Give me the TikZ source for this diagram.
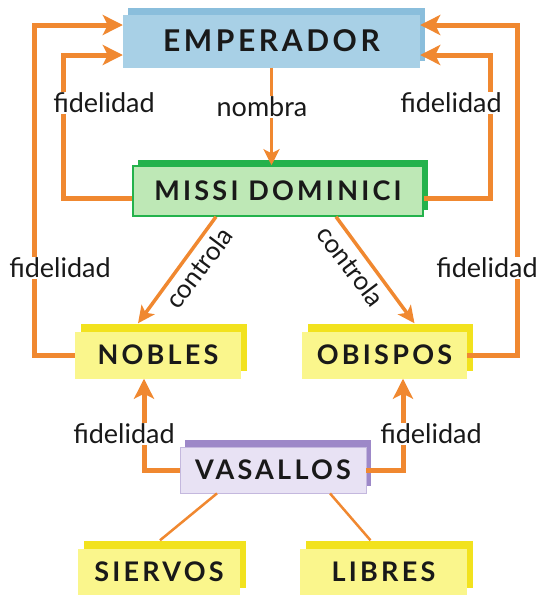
\documentclass[tikz,border=0pt]{standalone}
\usepackage{fontspec}
\setmainfont{Lato}
\newfontfamily\capsfont{Lato}[LetterSpace=12]
\usetikzlibrary{arrows.meta,shadows,calc}
\definecolor{org}{RGB}{240,136,48}
\definecolor{txt}{RGB}{25,25,25}
\definecolor{bluemain}{RGB}{168,208,230}
\definecolor{blueshadow}{RGB}{138,190,220}
\definecolor{greenmain}{RGB}{190,232,182}
\definecolor{greendark}{RGB}{36,178,76}
\definecolor{yelmain}{RGB}{250,246,140}
\definecolor{yelshadow}{RGB}{242,226,30}
\definecolor{purmain}{RGB}{232,226,244}
\definecolor{purdark}{RGB}{157,136,200}
\begin{document}
\begin{tikzpicture}[x=1pt,y=-1pt,
  box/.style={draw=none, minimum height=47pt, inner sep=0pt, text=txt,
    font=\capsfont\bfseries\fontsize{27}{27}\selectfont},
  bluebox/.style={box, fill=bluemain,
    copy shadow={fill=blueshadow, draw=none, shadow xshift=5pt, shadow yshift=7pt}},
  greenbox/.style={box, fill=greenmain, draw=greendark, line width=1.5pt,
    copy shadow={fill=greendark, draw=none, shadow xshift=5pt, shadow yshift=6pt}},
  yelbox/.style={box, fill=yelmain,
    copy shadow={fill=yelshadow, draw=none, shadow xshift=6pt, shadow yshift=8pt}},
  purbox/.style={box, fill=purmain, draw=purdark!60, line width=0.8pt,
    copy shadow={fill=purdark, draw=none, shadow xshift=5pt, shadow yshift=7pt}},
  lbl/.style={fill=white, inner sep=1pt, text=txt, font=\fontsize{27}{27}\selectfont},
  rlbl/.style={inner sep=0pt, text=txt, font=\fontsize{26}{26}\selectfont},
  fid/.style={draw=org, line width=5pt, line join=miter,
    -{Stealth[length=20pt,width=20pt,inset=5pt]}},
  nom/.style={draw=org, line width=3.5pt, -{Stealth[length=16pt,width=16pt,inset=4pt]}},
  ctl/.style={draw=org, line width=3.5pt, -{Stealth[length=17pt,width=16pt,inset=4pt]}},
  lnk/.style={draw=org, line width=2.5pt}
]
\useasboundingbox (0,0) rectangle (543,595);

% boxes
\node[bluebox, minimum width=297pt, minimum height=53pt,
  font=\capsfont\bfseries\fontsize{30}{30}\selectfont] (emp) at (271.5,41) {EMPERADOR};
\node[greenbox, minimum width=290pt, minimum height=50pt] (missi) at (278,191) {MISSI DOMINICI};
\node[yelbox, minimum width=166pt] (nobles) at (158,355) {NOBLES};
\node[yelbox, minimum width=165pt] (obispos) at (384.5,355) {OBISPOS};
\node[purbox, minimum width=186pt, minimum height=46pt] (vas) at (273,470) {VASALLOS};
\node[yelbox, minimum width=162pt] (siervos) at (159,572) {SIERVOS};
\node[yelbox, minimum width=167pt] (libres) at (383.5,572) {LIBRES};

% fidelity loops to the emperor
\coordinate (lo) at (34,25);
\coordinate (li) at (63,55);
\coordinate (ri) at (490,55);
\coordinate (ro) at (517,25);
\draw[fid] (nobles.west) -| (lo) -- (lo -| emp.west);
\draw[fid] ([yshift=-7pt]missi.west) -| (li) -- (li -| emp.west);
\draw[fid] ([yshift=-7pt]missi.east) -| (ri) -- (ri -| emp.east);
\draw[fid] (obispos.east) -| (ro) -- (ro -| emp.east);

% nombra
\draw[nom] (emp.south) -- (emp.south |- missi.north);

% controla
\draw[ctl] ([xshift=-62pt]missi.south) -- ([xshift=-20pt,yshift=8pt]nobles.north);
\draw[ctl] ([xshift=58pt]missi.south) -- ([xshift=30pt,yshift=8pt]obispos.north);

% vasallos
\coordinate (vl) at (144,468);
\coordinate (vr) at (403,468);
\draw[fid] (vas.west) -| (vl |- nobles.south);
\draw[fid] (vas.east) -| (vr |- obispos.south);
\draw[lnk] ([xshift=-56pt]vas.south) -- ([xshift=1pt,yshift=8pt]siervos.north);
\draw[lnk] ([xshift=57pt]vas.south) -- ([xshift=-13pt,yshift=8pt]libres.north);

% labels
\node[lbl] (f1) at (104,103) {fidelidad};
\node[lbl] (f2) at (451,103) {fidelidad};
\node[lbl] (nb) at (262,107) {nombra};
\node[lbl] (f3) at (60,268) {fidelidad};
\node[lbl] (f4) at (487,268) {fidelidad};
\node[lbl] (f5) at (124,434) {fidelidad};
\node[lbl] (f6) at (431,434) {fidelidad};
\node[rlbl, rotate=53] (c1) at (199,268) {controla};
\node[rlbl, rotate=-53] (c2) at (351,266) {controla};
\end{tikzpicture}
\end{document}
